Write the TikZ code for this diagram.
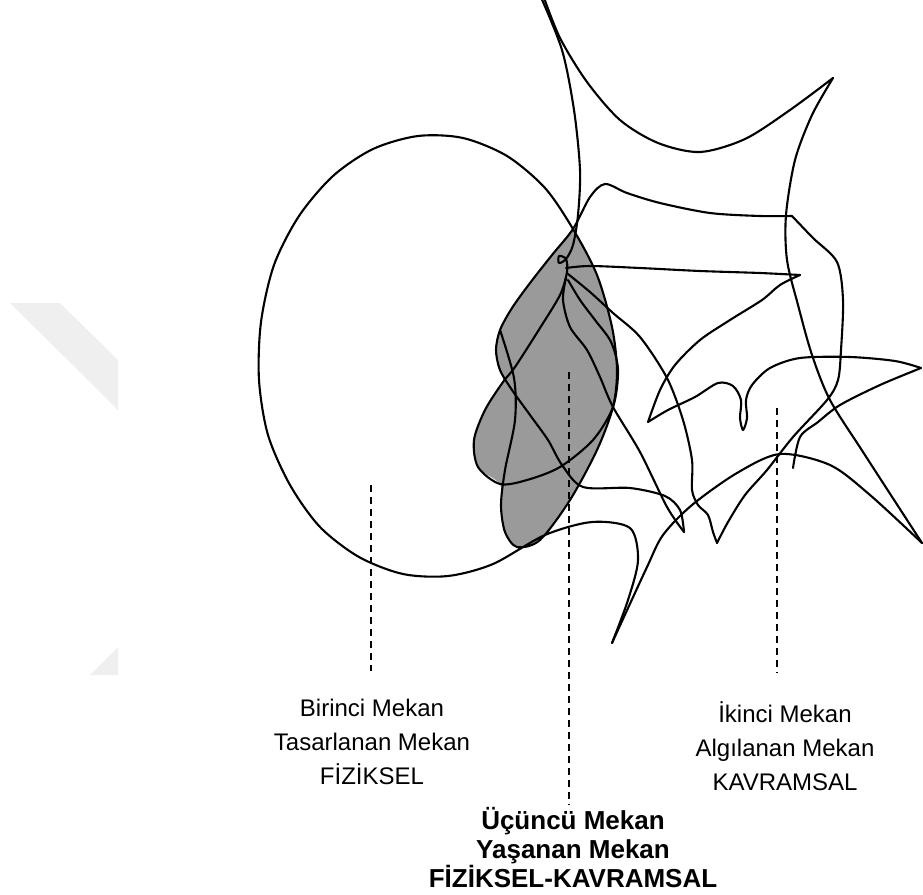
\documentclass[tikz,border=0pt]{standalone}
\usepackage{fontspec}
\setmainfont{Liberation Sans}
\usepackage{tikz}
\usetikzlibrary{positioning}
\definecolor{wmgray}{HTML}{EFEFEF}
\definecolor{shade3}{HTML}{9A9A9A}

\begin{document}
\begin{tikzpicture}[x=1pt, y=-1pt,
    scrib/.style={line width=2.1pt, line join=round, line cap=round},
    guide/.style={line width=1.6pt, dash pattern=on 7pt off 5pt},
    lbl/.style={align=center, inner sep=0pt, font=\fontsize{24}{34}\selectfont},
    lblbold/.style={lbl, font=\fontsize{26}{29}\selectfont\bfseries}]
        \useasboundingbox (0,0) rectangle (923,894);
        % Watermark
        \fill[wmgray] (10,303) -- (60,303) -- (118,360) -- (118,410) -- cycle;
        \fill[wmgray] (90,675) -- (118,647) -- (118,675) -- cycle;
        % Ucuncu mekan: grey area
        \fill[shade3] plot[smooth] coordinates {(573,229) (552,255) (530,283) (512,308) (500,330) (497,345) (498,367) (503,382)
          (485,410) (474,440) (478,467) (500,484) (501,505) (505,532) (517,547) (540,540) (570,500) (597,450)
          (613,407) (617,370) (612,327) (597,275) (573,229)} -- cycle;
        % Birinci mekan: ellipse, runs on into the grey area
        \draw[scrib] plot[smooth] coordinates {(612,643) (628,600) (638,560) (630,528) (592,522) (545,535) (493,564)
          (448,576) (403,574) (359,557) (320,527) (290,485) (268,435) (259,380) (261,322) (274,265) (299,216)
          (333,176) (373,149) (418,136) (463,138) (507,156) (545,188) (573,229) (597,275) (612,327) (617,370)
          (613,407) (597,450) (570,500) (540,540) (517,547) (505,532) (501,505) (505,470) (515,420) (514,378) (500,330)};
        % Ikinci mekan: scribble
        \draw[scrib] plot[smooth] coordinates {(543,-5) (560,38) (587,82) (620,120) (658,143) (700,152) (745,139) (790,110) (833,78)};
        \draw[scrib] plot[smooth] coordinates {(833,78) (812,115) (795,160) (786,215) (787,260) (798,305) (812,355) (830,400) (863,452) (922,543)};
        \draw[scrib] plot[smooth] coordinates {(922,543) (870,495) (830,465) (780,454) (737,473) (692,505) (663,535) (647,567) (612,643)};
        \draw[scrib] plot[smooth] coordinates {(540,-5) (562,50) (574,110) (580,170) (578,215) (573,245) (566,259) (559,263)
          (559,256) (566,259) (567,272) (560,295) (540,328) (515,367) (503,382) (485,410) (474,440) (478,467)
          (500,484) (527,480) (560,467) (593,440) (613,407) (618,370) (611,342) (595,320) (580,300) (568,280)};
        \draw[scrib] plot[smooth] coordinates {(568,274) (590,292) (613,313) (640,337) (667,378) (683,420) (692,460)
          (692,490) (698,505) (708,515) (713,532) (717,543)};
        \draw[scrib] plot[smooth] coordinates {(717,543) (728,522) (745,495) (767,470) (793,437) (827,400) (838,380)
          (841,350) (843,300) (837,262) (813,238) (792,216)};
        \draw[scrib] plot[smooth] coordinates {(792,216) (760,216) (710,213) (660,203) (627,193) (605,184) (590,197)
          (573,229) (552,255) (530,283) (512,308) (500,330) (496,350) (500,370) (512,390) (530,415) (548,440)
          (562,465) (583,487) (630,488) (665,496) (680,510) (684,532)};
        \draw[scrib] plot[smooth] coordinates {(684,532) (667,507) (640,452) (613,407) (600,377) (587,350) (570,327)
          (563,300) (566,278)};
        \draw[scrib] plot[smooth] coordinates {(566,268) (590,266) (640,268) (700,271) (760,273) (800,275)};
        \draw[scrib] plot[smooth] coordinates {(800,275) (780,285) (762,300) (730,320) (700,340) (675,365) (660,390) (648,422)};
        \draw[scrib] plot[smooth] coordinates {(648,422) (668,410) (695,397) (718,383) (733,386) (741,400) (740,418)
          (743,430) (747,418) (746,400) (752,385) (770,368) (800,358) (850,357) (895,361) (921,368)};
        \draw[scrib] plot[smooth] coordinates {(921,368) (880,385) (840,405) (818,422) (800,437) (793,468)};
        % Labels
        \node[lbl] (birinci) at (372,742) {Birinci Mekan\\Tasarlanan Mekan\\FİZİKSEL};
        \node[lbl] (ikinci) at (785,746) {İkinci Mekan\\Algılanan Mekan\\KAVRAMSAL};
        \node[lblbold] (ucuncu) at (573,848) {Üçüncü Mekan\\Yaşanan Mekan\\FİZİKSEL-KAVRAMSAL};
        % dashed leaders
        \coordinate (bTop) at (371,485);
        \coordinate (uTop) at (569,372);
        \coordinate (iTop) at (777,408);
        \draw[guide] (bTop) -- (bTop |- birinci.north) [shorten >=28pt];
        \draw[guide] (uTop) -- (uTop |- ucuncu.north) [shorten >=3pt];
        \draw[guide] (iTop) -- (iTop |- ikinci.north) [shorten >=28pt];
      \end{tikzpicture}
\end{document}
